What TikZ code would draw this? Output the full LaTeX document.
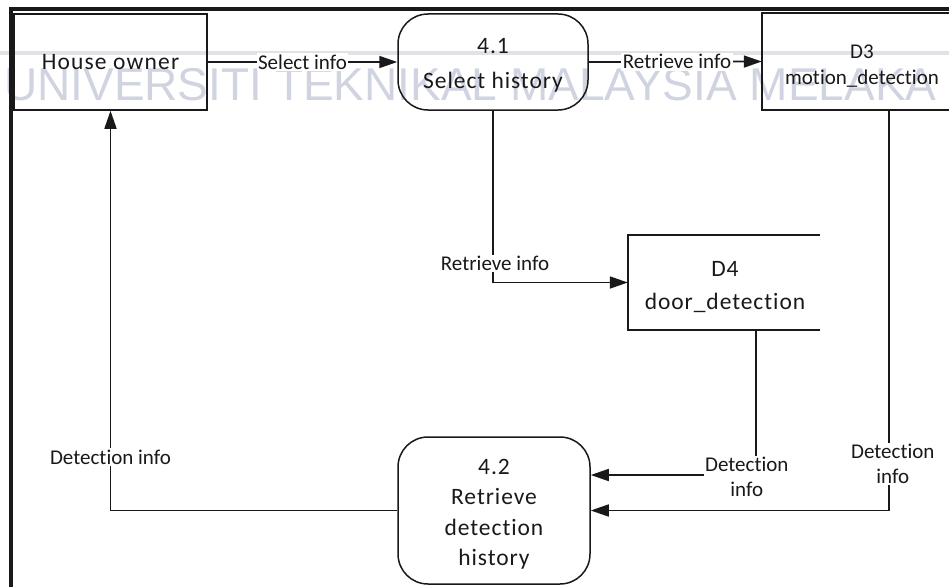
\documentclass[tikz,border=0pt]{standalone}
\usepackage{fontspec}
\setmainfont{Carlito}[Ligatures=NoCommon, RawFeature={-liga;-calt;-clig}]
\newfontfamily\wmfont{Liberation Sans}
\usetikzlibrary{arrows.meta,calc}

\definecolor{wmcol}{RGB}{208,212,225}
\definecolor{bandcol}{RGB}{224,226,232}
\definecolor{ink}{RGB}{25,25,25}

% font sizes (1pt = 1 unit of the drawing)
\newcommand\dfdOwnerFont{\fontsize{23.5}{34}\selectfont\addfontfeature{LetterSpace=5}}
\newcommand\dfdSelFont{\fontsize{23.5}{35}\selectfont\addfontfeature{LetterSpace=4}}
\newcommand\dfdProcFont{\fontsize{23.5}{30.5}\selectfont\addfontfeature{LetterSpace=4}}
\newcommand\dfdStoreFont{\fontsize{23.5}{33}\selectfont\addfontfeature{LetterSpace=4}}
\newcommand\dfdSmallStoreFont{\fontsize{21}{26}\selectfont}
\newcommand\dfdLabelFont{\fontsize{21}{24.5}\selectfont}
% invisible strut that lowers a block of centred lines
\newcommand\dfdTopPad[1]{\rule{0pt}{#1}}

\begin{document}
\begin{tikzpicture}[x=1pt,y=-1pt,
  every node/.style={inner sep=0pt, text=ink},
  entity/.style={draw=ink, line width=1.5pt, rectangle,
    minimum width=193pt, minimum height=96pt, align=center, font=\dfdOwnerFont},
  proc/.style={draw=ink, line width=1.5pt, rectangle, rounded corners=30pt,
    align=center},
  store/.style={rectangle, align=center},
  storeline/.style={draw=ink, line width=1.5pt},
  flow/.style={draw=ink, line width=1.7pt, -{Triangle[length=18pt,width=12pt]}},
  lbl/.style={fill=white, font=\dfdLabelFont, align=center, inner sep=1.5pt},
]
\useasboundingbox (0,0) rectangle (949,586);
\begin{scope}
\clip (0,0) rectangle (949,586);

% background watermark
\draw[bandcol, line width=4pt] (0,53) -- (949,53);
\node[anchor=base west, font=\wmfont\fontsize{46}{46}\selectfont, text=wmcol]
  (wmark) at (4,100) {UNIVERSITI TEKNIKAL MALAYSIA MELAKA};

% outer frame
\draw[ink, line width=3.2pt] (11,590) -- (11,9) -- (953,9);

% external entity
\node[entity] (owner) at (110.5,62) {House owner};

% processes
\node[proc, minimum width=190pt, minimum height=96pt, font=\dfdSelFont]
  (p41) at (493,62) {\dfdTopPad{21pt}4.1\\Select history};
\node[proc, minimum width=192pt, minimum height=147pt, font=\dfdProcFont]
  (p42) at (494,510.5) {\dfdTopPad{23pt}4.2\\Retrieve\\detection\\history};

% data stores (open on the right)
\node[store, minimum width=200pt, minimum height=97pt, font=\dfdSmallStoreFont]
  (d3) at (862,61.5) {\dfdTopPad{22pt}D3\\motion\_detection};
\draw[storeline] (d3.north east) -- (d3.north west) -- (d3.south west) -- (d3.south east);

\node[store, minimum width=194pt, minimum height=95pt, font=\dfdStoreFont]
  (d4) at (725,282.5) {\dfdTopPad{25pt}D4\\door\_detection};
\draw[storeline] ($(d4.north west)+(192,0)$) -- (d4.north west)
  -- (d4.south west) -- ($(d4.south west)+(192,0)$);

% data flows
\draw[flow] (owner.east) -- node[lbl, pos=0.5] {Select info} (p41.west);
\draw[flow] (p41.east) -- node[lbl, pos=0.51] {Retrieve info} (d3.west);
\draw[flow] (p41.south) |- node[lbl, pos=0.445, xshift=2pt] {Retrieve info} (d4.west);
\draw[flow] ($(d4.south west)+(128,0)$) |- node[lbl, pos=0.5, xshift=-9pt, yshift=-2pt] {Detection\\info}
  ($(p42.east)+(0,-35.5)$);
\draw[flow] ($(d3.south west)+(127,0)$) |- node[lbl, pos=0.442, xshift=4pt] {Detection\\info}
  (p42.east);
\draw[flow] (p42.west) -| node[lbl, pos=0.567] {Detection info} (owner.south);
\end{scope}
\end{tikzpicture}
\end{document}
